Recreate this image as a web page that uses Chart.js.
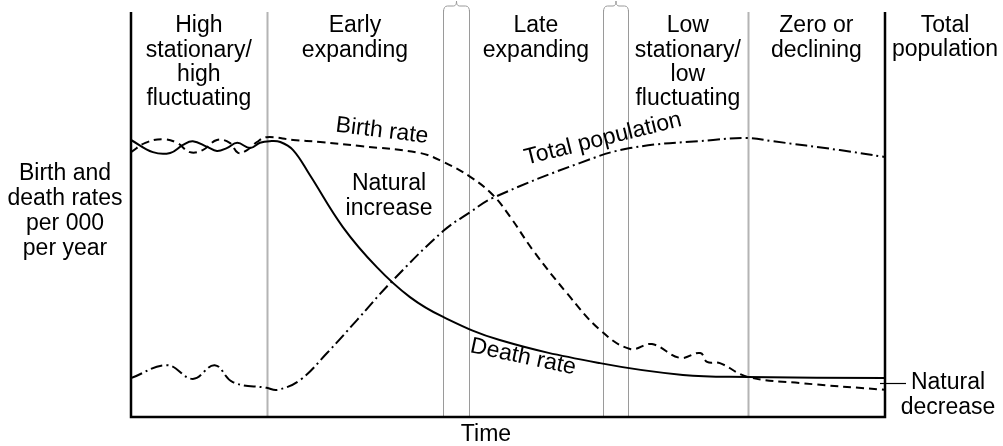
<!DOCTYPE html>
<html>
<head>
<meta charset="utf-8">
<script src="https://cdn.jsdelivr.net/npm/chart.js@4/dist/chart.umd.min.js"></script>
<style>
  html, body { margin: 0; padding: 0; background: #fff; }
  #wrap { width: 1003px; height: 446px; }
</style>
</head>
<body>
<div id="wrap"><canvas id="dtm" width="1003" height="446"></canvas></div>
<script>
// time runs 0..100 across the plot, rates 0..100 up the plot
const birthT = [0, 1.9, 4.2, 6.1, 7.8, 9.5, 11.4, 13.1, 14.2, 15.4, 16.7, 18.0, 21.5, 25.1, 30.4, 38.3, 41.4, 45.0, 48.0, 50.3, 53.3, 57.8, 62.2, 66.2, 69.1, 72.8, 75.5, 76.4, 78.1, 81.8, 88.7, 100];
const birthRate = [65.4, 67.7, 68.6, 67.7, 65.4, 65.9, 68.4, 67.7, 65.2, 65.9, 67.9, 69.1, 68.4, 67.9, 66.9, 65.2, 63.0, 59.3, 54.8, 49.4, 41.2, 30.6, 21.5, 16.8, 18.0, 14.6, 15.8, 13.6, 13.3, 9.9, 8.4, 6.7];

const deathT = [0, 2.9, 5.2, 6.9, 8.2, 10.1, 11.4, 12.7, 14.1, 15.8, 17.1, 18.4, 19.8, 21.5, 23.7, 28.1, 32.6, 37.0, 41.4, 48.9, 62.2, 73.2, 81.8, 100];
const deathRate = [68.4, 65.4, 65.2, 67.2, 68.1, 66.7, 65.7, 66.4, 67.7, 66.4, 67.7, 68.1, 67.9, 65.9, 59.8, 46.9, 37.0, 29.6, 24.7, 19.0, 13.3, 10.4, 9.9, 9.6];

const popT = [0, 4.8, 8.2, 11.1, 13.5, 18.0, 19.4, 22.4, 26.0, 30.0, 34.4, 41.4, 45.0, 48.0, 59.5, 66.2, 77.2, 81.7, 85.1, 94.0, 100];
const totalPop = [9.6, 12.8, 9.4, 12.8, 8.6, 7.2, 6.7, 9.1, 15.8, 24.0, 33.1, 45.9, 50.6, 54.1, 62.7, 66.4, 68.4, 68.9, 68.1, 65.9, 64.2];

// stage boundaries (time units) and stage titles
const boundaries = [18.0, 41.4, 44.8, 62.6, 65.9, 81.8];
const stageNames = [
    ['High', 'stationary/', 'high', 'fluctuating'],
    ['Early', 'expanding'],
    ['Late', 'expanding'],
    ['Low', 'stationary/', 'low', 'fluctuating'],
    ['Zero or', 'declining']
];
// which boundary pairs each stage sits between
const stageSpans = [[null, 0], [0, 1], [2, 3], [4, 5], [5, null]];

const FONT = '"Liberation Sans", Arial, sans-serif';

function pts(xs, ys) {
    return xs.map(function(x, i) { return { x: x, y: ys[i] }; });
}

function brace(ctx, x1, x2, yBase) {
    const mid = (x1 + x2) / 2;
    ctx.beginPath();
    ctx.moveTo(x1, yBase + 2);
    ctx.quadraticCurveTo(x1, yBase - 4, x1 + 4, yBase - 4);
    ctx.lineTo(mid - 3, yBase - 4);
    ctx.quadraticCurveTo(mid, yBase - 4, mid, yBase - 9);
    ctx.quadraticCurveTo(mid, yBase - 4, mid + 3, yBase - 4);
    ctx.lineTo(x2 - 4, yBase - 4);
    ctx.quadraticCurveTo(x2, yBase - 4, x2, yBase + 2);
    ctx.stroke();
}

function rotText(ctx, txt, x, y, deg) {
    ctx.save();
    ctx.translate(x, y);
    ctx.rotate(deg * Math.PI / 180);
    ctx.fillText(txt, 0, 0);
    ctx.restore();
}

// frame, stage dividers and all the labels
const decor = {
    id: 'decor',
    beforeDatasetsDraw: function(chart) {
        const ctx = chart.ctx;
        const a = chart.chartArea;
        const xs = chart.scales.x;
        ctx.save();
        boundaries.forEach(function(b, i) {
            const px = Math.round(xs.getPixelForValue(b)) + 0.5;
            const major = (i === 0 || i === boundaries.length - 1);
            ctx.strokeStyle = major ? '#b4b4b4' : '#9a9a9a';
            ctx.lineWidth = major ? 2 : 1;
            ctx.beginPath();
            ctx.moveTo(px, major ? a.top : a.top - 2);
            ctx.lineTo(px, a.bottom);
            ctx.stroke();
        });
        // braces over the two transition gaps
        ctx.strokeStyle = '#9a9a9a';
        ctx.lineWidth = 1;
        brace(ctx, Math.round(xs.getPixelForValue(boundaries[1])) + 0.5, Math.round(xs.getPixelForValue(boundaries[2])) + 0.5, a.top - 2);
        brace(ctx, Math.round(xs.getPixelForValue(boundaries[3])) + 0.5, Math.round(xs.getPixelForValue(boundaries[4])) + 0.5, a.top - 2);
        ctx.restore();
    },
    afterDraw: function(chart) {
        const ctx = chart.ctx;
        const a = chart.chartArea;
        const xs = chart.scales.x;
        ctx.save();
        // axes
        ctx.strokeStyle = '#000';
        ctx.lineWidth = 2.5;
        ctx.beginPath();
        ctx.moveTo(a.left, a.top);
        ctx.lineTo(a.left, a.bottom);
        ctx.lineTo(a.right, a.bottom);
        ctx.lineTo(a.right, a.top);
        ctx.stroke();

        ctx.fillStyle = '#000';
        ctx.font = '23px ' + FONT;
        ctx.textAlign = 'center';
        ctx.textBaseline = 'middle';

        // stage titles
        stageNames.forEach(function(lines, i) {
            const s = stageSpans[i];
            const l = s[0] === null ? a.left : xs.getPixelForValue(boundaries[s[0]]);
            const r = s[1] === null ? a.right : xs.getPixelForValue(boundaries[s[1]]);
            lines.forEach(function(t, j) {
                ctx.fillText(t, (l + r) / 2, 26 + j * 24.3);
            });
        });
        ctx.fillText('Total', 945, 26);
        ctx.fillText('population', 945, 50);

        // y title
        ['Birth and', 'death rates', 'per 000', 'per year'].forEach(function(t, j) {
            ctx.fillText(t, 65, 174 + j * 25);
        });
        ctx.fillText('Time', 486, 435);

        // curve labels
        rotText(ctx, 'Birth rate', 382, 131, 7);
        ctx.fillText('Natural', 389, 184);
        ctx.fillText('increase', 389, 209);
        rotText(ctx, 'Total population', 603, 139, -14);
        rotText(ctx, 'Death rate', 523, 357, 12);

        // natural decrease pointer
        ctx.lineWidth = 1.2;
        ctx.beginPath();
        ctx.moveTo(a.right - 5, 383.5);
        ctx.lineTo(a.right + 21, 383.5);
        ctx.stroke();
        ctx.fillText('Natural', 948, 383);
        ctx.fillText('decrease', 948, 408);
        ctx.restore();
    }
};

new Chart(document.getElementById('dtm'), {
    type: 'line',
    data: {
        datasets: [
            {
                label: 'Birth rate',
                data: pts(birthT, birthRate),
                borderColor: '#000',
                borderWidth: 2,
                borderDash: [8, 5],
                pointRadius: 0,
                tension: 0.4,
                fill: false
            },
            {
                label: 'Death rate',
                data: pts(deathT, deathRate),
                borderColor: '#000',
                borderWidth: 2,
                pointRadius: 0,
                tension: 0.4,
                fill: false
            },
            {
                label: 'Total population',
                data: pts(popT, totalPop),
                borderColor: '#000',
                borderWidth: 2,
                borderDash: [12, 4, 2, 4],
                pointRadius: 0,
                tension: 0.4,
                fill: false
            }
        ]
    },
    options: {
        responsive: false,
        animation: false,
        devicePixelRatio: 1,
        layout: { padding: { left: 131, right: 118, top: 12, bottom: 29 } },
        scales: {
            x: { type: 'linear', min: 0, max: 100, display: false },
            y: { min: 0, max: 100, display: false }
        },
        plugins: {
            legend: { display: false },
            tooltip: { enabled: false }
        }
    },
    plugins: [decor]
});
</script>
</body>
</html>
